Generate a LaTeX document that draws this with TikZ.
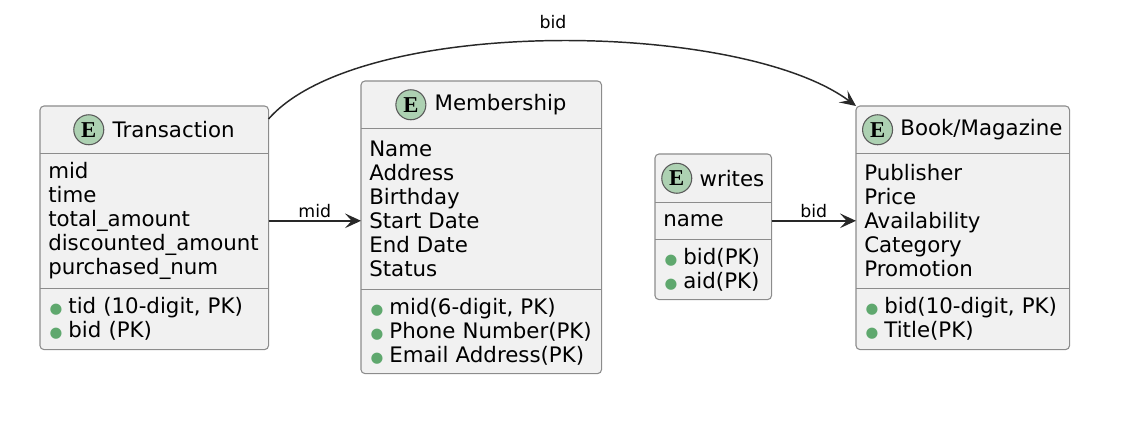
\documentclass[tikz,border=0pt]{standalone}
\usepackage{fontspec}
\setmainfont{DejaVu Sans}
\newfontfamily\spotfont{Liberation Serif}
\usetikzlibrary{positioning,arrows.meta,backgrounds}
\definecolor{boxfill}{HTML}{F1F1F1}
\definecolor{boxline}{HTML}{8C8C8C}
\definecolor{spotfill}{HTML}{ADD1B2}
\definecolor{spotline}{HTML}{5A5A5A}
\definecolor{keydot}{HTML}{5FA86E}
\definecolor{linkline}{HTML}{282828}
\newcommand{\pk}{\hspace{1pt}{\fontsize{11pt}{11pt}\selectfont\textcolor{keydot}{●}}\hspace{4.5pt}}
\tikzstyle{head} = [rectangle, inner sep=0pt, minimum height=35.25pt]
\tikzstyle{title} = [inner sep=0pt, font=\fontsize{16pt}{18pt}\selectfont]
\tikzstyle{spot} = [circle, draw=spotline, fill=spotfill, line width=0.8pt, inner sep=0pt, minimum size=22.5pt, font=\spotfont\bfseries\fontsize{17pt}{17pt}\selectfont]
\tikzstyle{part} = [rectangle, inner xsep=6pt, inner ysep=0pt, align=left, font=\fontsize{16pt}{18pt}\selectfont]
\tikzstyle{frame} = [draw=boxline, fill=boxfill, line width=0.8pt, rounded corners=3pt]
\tikzstyle{divider} = [draw=boxline, line width=0.8pt]
\tikzstyle{link} = [draw=linkline, line width=1.1pt, -{Stealth[length=12pt,width=11pt,inset=5pt]}]
\tikzstyle{tag} = [inner sep=2pt, font=\fontsize{13pt}{13pt}\selectfont]

\begin{document}
\begin{tikzpicture}[x=0.75pt,y=-0.75pt]
    \useasboundingbox (0,0) rectangle (1124,427);

    % Transaction
    \node [head, minimum width=171pt, anchor=north west] (trans) at (40,106) {};
    \node [title] (transname) at ([xshift=14.5pt]trans.center) {Transaction};
    \node [spot, left=6pt of transname] (transspot) {E};
    \node [part, text width=159pt, minimum height=100.5pt, below=0pt of trans] (transattr)
        {mid\\time\\total\_amount\\discounted\_amount\\purchased\_num};
    \node [part, text width=159pt, minimum height=45.75pt, below=0pt of transattr] (transkey)
        {\pk tid (10-digit, PK)\\\pk bid (PK)};

    % Membership
    \node [head, minimum width=180pt, anchor=north west] (member) at (361,81) {};
    \node [title] (membername) at ([xshift=14.5pt]member.center) {Membership};
    \node [spot, left=6pt of membername] (memberspot) {E};
    \node [part, text width=168pt, minimum height=120pt, below=0pt of member] (memberattr)
        {Name\\Address\\Birthday\\Start Date\\End Date\\Status};
    \node [part, text width=168pt, minimum height=63pt, below=0pt of memberattr] (memberkey)
        {\pk mid(6-digit, PK)\\\pk Phone Number(PK)\\\pk Email Address(PK)};

    % writes
    \node [head, minimum width=87pt, minimum height=36pt, anchor=north west] (writes) at (655,154) {};
    \node [title] (writesname) at ([xshift=14pt]writes.center) {writes};
    \node [spot, left=5.25pt of writesname] (writesspot) {E};
    \node [part, text width=75pt, minimum height=27pt, below=0pt of writes] (writesattr) {name};
    \node [part, text width=75pt, minimum height=45pt, below=0pt of writesattr] (writeskey)
        {\pk bid(PK)\\\pk aid(PK)};

    % Book/Magazine
    \node [head, minimum width=159.75pt, anchor=north west] (book) at (856,106) {};
    \node [title] (bookname) at ([xshift=14pt]book.center) {Book/Magazine};
    \node [spot, left=5.25pt of bookname] (bookspot) {E};
    \node [part, text width=147.75pt, minimum height=100.5pt, below=0pt of book] (bookattr)
        {Publisher\\Price\\Availability\\Category\\Promotion};
    \node [part, text width=147.75pt, minimum height=45.75pt, below=0pt of bookattr] (bookkey)
        {\pk bid(10-digit, PK)\\\pk Title(PK)};

    \begin{scope}[on background layer]
        \foreach \e in {trans,member,writes,book}
            \draw [frame] (\e.north west) rectangle (\e key.south east);
    \end{scope}
    \foreach \e in {trans,member,writes,book} {
        \draw [divider] (\e attr.north west) -- (\e attr.north east);
        \draw [divider] (\e key.north west) -- (\e key.north east);
    }

    % relations
    \draw [link] (transattr.east) -- node[tag, above] {mid} (memberattr.west |- transattr.east);
    \draw [link] (writesattr.east) -- node[tag, above] {bid} (bookattr.west |- writesattr.east);
    \draw [link] (trans.north east) ++(0,13) coordinate (bidfrom)
        .. controls (360,15) and (740,20) .. (book.north west)
        node[tag, pos=0.5, above=7pt] {bid};
\end{tikzpicture}
\end{document}
